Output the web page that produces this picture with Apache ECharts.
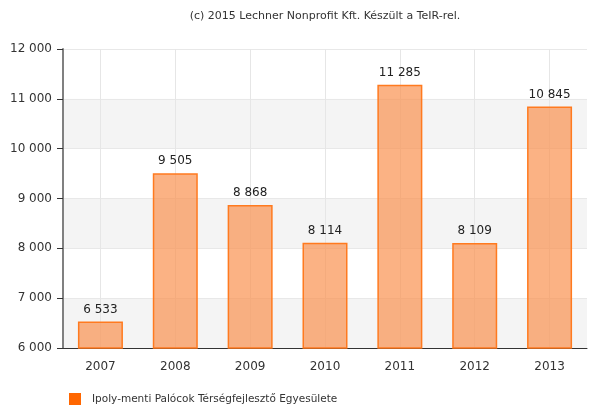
<!DOCTYPE html>
<html>
<head>
<meta charset="utf-8">
<script src="https://cdn.jsdelivr.net/npm/echarts@6/dist/echarts.min.js"></script>
<style>
  html, body { margin: 0; padding: 0; background: #fff; }
  #chart { width: 589px; height: 408px; }
</style>
</head>
<body>
<div id="chart"></div>
<script>
const years = ["2007", "2008", "2009", "2010", "2011", "2012", "2013"];
const values = [6533, 9505, 8868, 8114, 11285, 8109, 10845];
const seriesName = "Ipoly-menti Palócok Térségfejlesztő Egyesülete";
const sourceNote = "(c) 2015 Lechner Nonprofit Kft. Készült a TeIR-rel.";

const FONT = "DejaVu Sans";

// 12000 -> "12 000"
function fmt(v) {
  return String(v).replace(/\B(?=(\d{3})+(?!\d))/g, " ");
}

const chart = echarts.init(document.getElementById("chart"), null, { renderer: "canvas" });

chart.setOption({
  animation: false,
  textStyle: { fontFamily: FONT },
  graphic: [{
    type: "text",
    x: 325,
    y: 11,
    style: {
      text: sourceNote,
      fill: "#333",
      font: "11px " + FONT,
      textAlign: "center"
    }
  }],
  legend: {
    left: 69,
    top: 393,
    padding: 0,
    itemWidth: 12,
    itemHeight: 12,
    icon: "rect",
    itemGap: 10,
    textStyle: { fontSize: 10.5, color: "#333", fontFamily: FONT, padding: [3, 0, 0, 6] },
    data: [{ name: seriesName, itemStyle: { color: "#ff6600", borderWidth: 0 } }]
  },
  grid: { left: 63, right: 2, top: 49, bottom: 60, containLabel: false },
  xAxis: {
    type: "category",
    data: years,
    axisLine: { lineStyle: { color: "#333", width: 1 } },
    axisTick: { alignWithLabel: true, length: 5, lineStyle: { color: "#333" } },
    axisLabel: { color: "#333", fontSize: 12, margin: 13, fontFamily: FONT },
    splitLine: { show: true, alignWithLabel: true, lineStyle: { color: "#e6e6e6", width: 1 } }
  },
  yAxis: {
    type: "value",
    min: 6000,
    max: 12000,
    interval: 1000,
    axisLine: { show: true, lineStyle: { color: "#808080", width: 2 } },
    axisTick: { show: true, length: 6, lineStyle: { color: "#333" } },
    axisLabel: { color: "#333", fontSize: 12, margin: 11, formatter: fmt, fontFamily: FONT },
    splitLine: { show: true, lineStyle: { color: "#e8e8e8", width: 1 } },
    splitArea: { show: true, areaStyle: { color: ["#f4f4f4", "#ffffff"] } }
  },
  series: [{
    name: seriesName,
    type: "bar",
    data: values,
    barWidth: 45,
    itemStyle: {
      color: "rgba(250,145,80,0.7)",
      borderColor: "#ff7a1f",
      borderWidth: 1.5
    },
    label: {
      show: true,
      position: "top",
      distance: 6,
      color: "#222",
      fontSize: 12,
      fontFamily: FONT,
      formatter: p => fmt(p.value)
    }
  }]
});
</script>
</body>
</html>
